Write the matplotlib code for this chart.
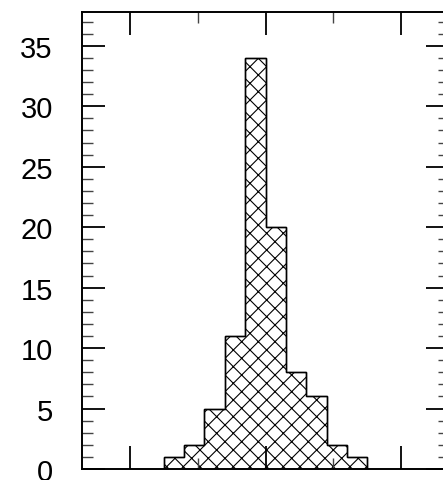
import numpy as np
import matplotlib.pyplot as plt
from matplotlib.ticker import MultipleLocator, NullFormatter

plt.rcParams['font.family'] = ['Liberation Sans', 'DejaVu Sans']
plt.rcParams['hatch.linewidth'] = 0.8

# histogram contents, 10 bins of width 0.15
edges = np.round(np.arange(-0.75, 0.76, 0.15), 2)
counts = [1, 2, 5, 11, 34, 20, 8, 6, 2, 1]

fig = plt.figure(figsize=(4.43, 4.81), dpi=100)
ax = fig.add_axes([82/443, 11/481, 367/443, 457/481])

ax.stairs(counts, edges, fill=True, facecolor='white', edgecolor='black',
          hatch='xx', linewidth=1.0)
ax.stairs(counts, edges, color='black', linewidth=1.0)

ax.set_xlim(-1.353, 1.353)
ax.set_ylim(0, 37.8)

ax.xaxis.set_major_locator(MultipleLocator(1))
ax.xaxis.set_minor_locator(MultipleLocator(0.5))
ax.yaxis.set_major_locator(MultipleLocator(5))
ax.yaxis.set_minor_locator(MultipleLocator(1))
ax.xaxis.set_major_formatter(NullFormatter())

ax.tick_params(which='both', direction='in', top=True, right=True,
               labelsize=21, pad=21)
ax.tick_params(which='major', length=16.5, width=1.3)
ax.tick_params(which='minor', length=8, width=1.0, color='#444444')
for s in ax.spines.values():
    s.set_linewidth(1.4)

fig.savefig('out.png', dpi=100)
